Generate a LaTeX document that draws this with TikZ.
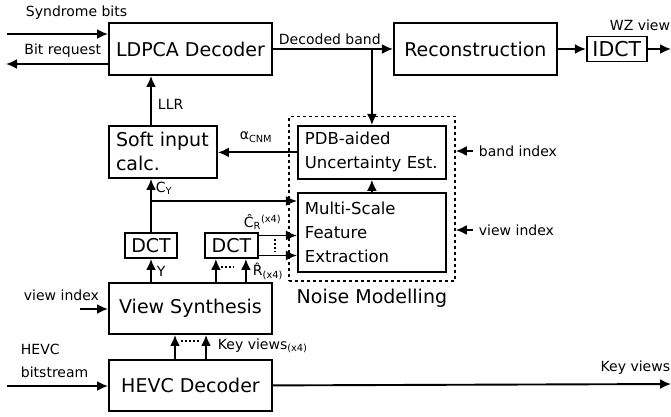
\documentclass[tikz,border=0pt]{standalone}
\usepackage{fontspec}
\setmainfont{DejaVu Sans}
\usetikzlibrary{arrows.meta,positioning,fit}
\tikzset{>={Latex[length=11pt,width=10pt]}}

\begin{document}
\begin{tikzpicture}[x=1pt,y=-1pt,line width=1.9pt]
	\tikzset{block/.style={draw, rectangle, inner sep=0pt, align=center, font=\fontsize{19}{24}\selectfont},
		lblock/.style={block, align=left, inner xsep=7pt, text width=#1},
		lbl/.style={inner sep=0pt, font=\fontsize{14}{23}\selectfont},
		dotline/.style={line width=2pt, dash pattern=on 2pt off 2pt},
	}
	\useasboundingbox (0,0) rectangle (671,416);
	
	\node [block, minimum width=163pt, minimum height=52pt] (ldpca) at (190.5,49) {LDPCA Decoder};
	\node [block, minimum width=163pt, minimum height=52pt, right=120pt of ldpca] (recon) {Reconstruction};
	\node [block, minimum width=60pt, minimum height=25pt, font=\fontsize{20.5}{24}\selectfont, right=28pt of recon] (idct) {IDCT};
	\node [lblock=94pt, minimum height=52pt, below=49pt of ldpca.south west, anchor=north west] (soft) {Soft input\\calc.};
	\node [lblock=134pt, minimum height=53pt, font=\fontsize{16.5}{24}\selectfont, right=79pt of soft.north east, anchor=north west] (pdb) {PDB-aided\\Uncertainty Est.};
	\node [lblock=134pt, minimum height=79pt, font=\fontsize{16.5}{24}\selectfont, below=12pt of pdb] (mse) {Multi-Scale\\Feature\\Extraction};
	\node [draw, dash pattern=on 3pt off 3pt, inner xsep=8pt, inner ysep=8.5pt, fit=(pdb)(mse)] (noise) {};
	\node [inner sep=0pt, font=\fontsize{19}{24}\selectfont, below=6pt of noise] (noiselbl) {Noise Modelling};
	\node [block, minimum width=52pt, minimum height=25pt] (dct1) at (151,245.5) {DCT};
	\node [block, minimum width=53pt, minimum height=25pt, right=26pt of dct1] (dct2) {DCT};
	\node [block, minimum width=163pt, minimum height=51pt] (vs) at (190.5,308.5) {View Synthesis};
	\node [block, minimum width=163pt, minimum height=51pt, below=24pt of vs] (hevc) {HEVC Decoder};
	
	% decoder inputs and outputs
	\coordinate (synin) at (7,34);
	\coordinate (reqout) at (6,64);
	\draw[->] (synin) -- (synin -| ldpca.west);
	\draw[->] (reqout -| ldpca.west) -- (reqout);
	\node [lbl, anchor=west] (synlbl) at (25,13) {Syndrome bits};
	\node [lbl, anchor=east] (reqlbl) at (102,51) {Bit request};
	\draw[->] (ldpca.east) -- (recon.west);
	\node [lbl, anchor=west] (declbl) at (278,39) {Decoded band};
	\draw[->] (recon.east) -- (idct.west);
	\coordinate (wzout) at (671,49);
	\draw[->] (idct.east) -- (wzout);
	\node [lbl, anchor=east] (wzlbl) at (671,25) {WZ view};
	\draw[->] (pdb.north |- ldpca.east) -- (pdb.north);
	
	% soft input and noise model
	\draw[->] (dct1.north |- soft.north) -- (dct1.north |- ldpca.south);
	\node [lbl, anchor=west] (llrlbl) at (157,104) {LLR};
	\draw[->] (pdb.west) -- (pdb.west -| soft.east);
	\node [lbl] (alphalbl) at (256,137) {α\textsubscript{CNM}};
	\draw[->] (mse.north) -- (pdb.south);
	\coordinate (bandin) at (473,151);
	\coordinate (viewin) at (473,230);
	\draw[->] (bandin) -- (bandin -| noise.east);
	\draw[->] (viewin) -- (viewin -| noise.east);
	\node [lbl, anchor=west] (bandlbl) at (478,151) {band index};
	\node [lbl, anchor=west] (viewlbl) at (478,230) {view index};
	
	% DCT stage
	\draw[->] (dct1.north) -- (dct1.north |- soft.south);
	\coordinate (cyfork) at (151,201);
	\draw[->] (cyfork) -- (cyfork -| mse.west);
	\node [lbl, anchor=west] (cylbl) at (155,188) {C\textsubscript{Y}};
	\draw[->] ([yshift=10pt]dct2.east) -- ([yshift=10pt]dct2.east -| mse.west);
	\draw[->] ([yshift=-10pt]dct2.east) -- ([yshift=-10pt]dct2.east -| mse.west);
	\coordinate (crdot1) at (275,239);
	\coordinate (crdot2) at (275,252);
	\draw[dotline] (crdot1) -- (crdot2);
	\node [lbl, anchor=west] (crlbl) at (243,222) {Ĉ\textsubscript{R}\textsuperscript{(x4)}};
	\draw[->] (dct1.south |- vs.north) -- (dct1.south);
	\node [lbl, anchor=west] (ylbl) at (156,271) {Y};
	\draw[->] ([xshift=-15.5pt]dct2.south |- vs.north) -- ([xshift=-15.5pt]dct2.south);
	\draw[->] ([xshift=14.5pt]dct2.south |- vs.north) -- ([xshift=14.5pt]dct2.south);
	\coordinate (rdot1) at (221,267);
	\coordinate (rdot2) at (234,267);
	\draw[dotline] (rdot1) -- (rdot2);
	\node [lbl, anchor=west] (rlbl) at (252,271) {R̂\textsubscript{(x4)}};
	
	% view synthesis and HEVC
	\coordinate (vsin) at (80,309);
	\draw[->] (vsin) -- (vsin -| vs.west);
	\node [lbl, anchor=west] (vsinlbl) at (23,295) {view index};
	\draw[->] ([xshift=-15.5pt]hevc.north) -- ([xshift=-15.5pt]vs.south);
	\draw[->] ([xshift=15.5pt]hevc.north) -- ([xshift=15.5pt]vs.south);
	\coordinate (kdot1) at (181,341);
	\coordinate (kdot2) at (200,341);
	\draw[dotline] (kdot1) -- (kdot2);
	\node [lbl, anchor=west] (keylbl) at (217,346) {Key views\textsubscript{(x4)}};
	\coordinate (hevcin) at (7,386);
	\draw[->] (hevcin) -- (hevcin -| hevc.west);
	\node [lbl, anchor=west, align=left] (hevclbl) at (20,361) {HEVC\\bitstream};
	\coordinate (keyout) at (671,384);
	\draw[->] (hevc.east) -- (keyout);
	\node [lbl, anchor=east] (keyoutlbl) at (671,368) {Key views};
\end{tikzpicture}
\end{document}
